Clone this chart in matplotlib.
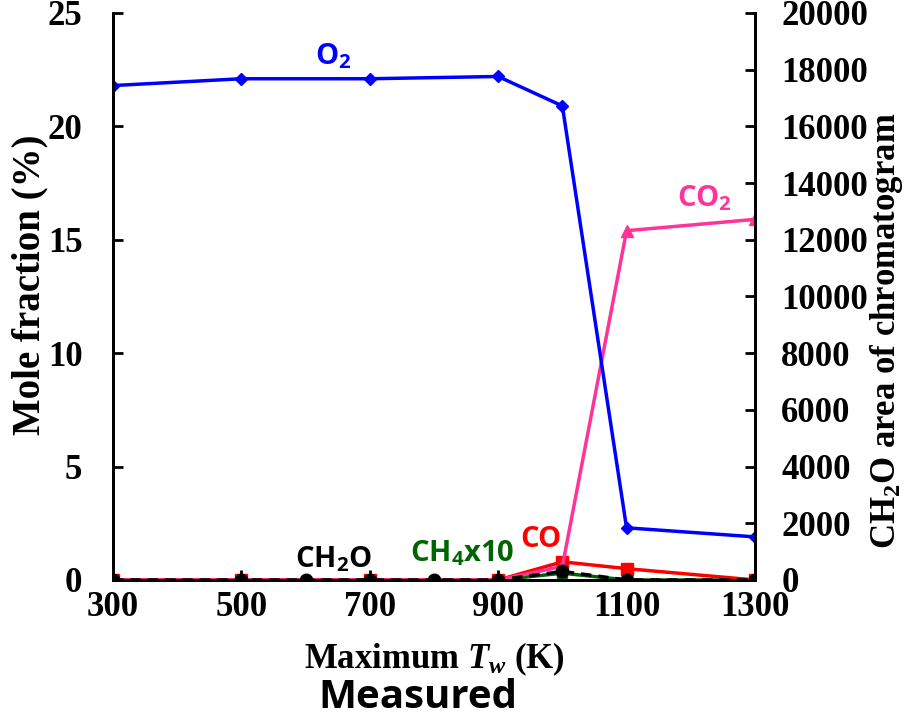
import matplotlib
matplotlib.use('Agg')
import matplotlib.pyplot as plt

# Datos
temps = [300, 500, 700, 900, 1000, 1100, 1300]
o2 = [21.8, 22.1, 22.1, 22.2, 20.9, 2.3, 1.9]
co2 = [0, 0, 0, 0, 0.6, 15.4, 15.9]
co = [0, 0, 0, 0, 0.8, 0.5, 0]
ch4x10 = [0, 0, 0, 0, 0.3, 0, 0]

ch2o_temps = [300, 500, 600, 700, 800, 900, 1000, 1100, 1300]
ch2o_area = [0, 0, 0, 0, 0, 0, 300, 0, 0]

xticks = [300, 500, 700, 900, 1100, 1300]

serif = 'Liberation Serif'
sans = 'Open Sans'

plt.rcParams['mathtext.fontset'] = 'custom'
plt.rcParams['mathtext.rm'] = 'Liberation Serif:bold'
plt.rcParams['mathtext.it'] = 'Liberation Serif:italic:bold'
plt.rcParams['mathtext.bf'] = 'Liberation Serif:bold'
plt.rcParams['mathtext.sf'] = 'Open Sans:bold'

fig = plt.figure(figsize=(9.14, 7.21), dpi=100)
ax = fig.add_axes([0.1236, 0.1956, 0.7024, 0.7864])
ax2 = ax.twinx()

ax.plot(temps, ch4x10, color='#006400', lw=2.5, marker='s', ms=7, zorder=2)
ax.plot(temps, co, color='#FF0000', lw=2.5, marker='s', ms=8, zorder=3)
ax.plot(temps, co2, color='#FF3399', lw=2.5, marker='^', ms=9, zorder=4)
ax.plot(temps, o2, color='#0000FF', lw=2.5, marker='D', ms=6, zorder=5)
ax2.plot(ch2o_temps, ch2o_area, color='black', lw=2.5, ls=(0, (3, 2)),
         marker='o', ms=9, zorder=3)

ax.set_xlim(300, 1300)
ax.set_ylim(0, 25)
ax2.set_ylim(0, 20000)
ax.set_xticks(xticks)
ax.set_yticks(range(0, 26, 5))
ax2.set_yticks(range(0, 20001, 2000))

for a in (ax, ax2):
    a.tick_params(direction='in', length=7, width=2, labelsize=25)
    for lab in a.get_xticklabels() + a.get_yticklabels():
        lab.set_fontfamily(serif)
        lab.set_fontweight('bold')
    a.spines['top'].set_visible(False)
    for s in a.spines.values():
        s.set_linewidth(2)
ax.tick_params(axis='x', pad=8)
ax.tick_params(axis='y', pad=22)
ax2.tick_params(axis='y', pad=19)

ax.set_ylabel('Mole fraction (%)', fontfamily=serif, fontweight='bold',
              fontsize=28)
ax.yaxis.set_label_coords(-0.101, 0.52)
ax2.set_ylabel(r'CH$_\mathbf{2}$O area of chromatogram', fontfamily=serif,
               fontweight='bold', fontsize=25)
ax2.yaxis.set_label_coords(1.176, 0.439)
ax.set_xlabel(r'Maximum $T_w$ (K)', fontfamily=serif, fontweight='bold',
              fontsize=25, labelpad=12)

fig.text(0.457, 0.018, 'Measured', fontfamily=sans, fontweight='bold',
         fontsize=29, ha='center', va='baseline')

# Etiquetas de las series
lab_kw = dict(fontfamily=sans, fontweight='bold', fontsize=21,
              va='baseline', ha='left')
fig.text(0.3446, 0.9098, r'O$_\mathsf{2}$', color='#0000FF', **lab_kw)
fig.text(0.7407, 0.7129, r'CO$_\mathsf{2}$', color='#FF3399', **lab_kw)
fig.text(0.3228, 0.2122, r'CH$_\mathsf{2}$O', color='black', **lab_kw)
fig.text(0.4486, 0.2205, r'CH$_\mathsf{4}$x10', color='#006400', **lab_kw)
fig.text(0.5689, 0.2413, 'CO', color='#FF0000', **lab_kw)

fig.savefig('out.png', dpi=100)
